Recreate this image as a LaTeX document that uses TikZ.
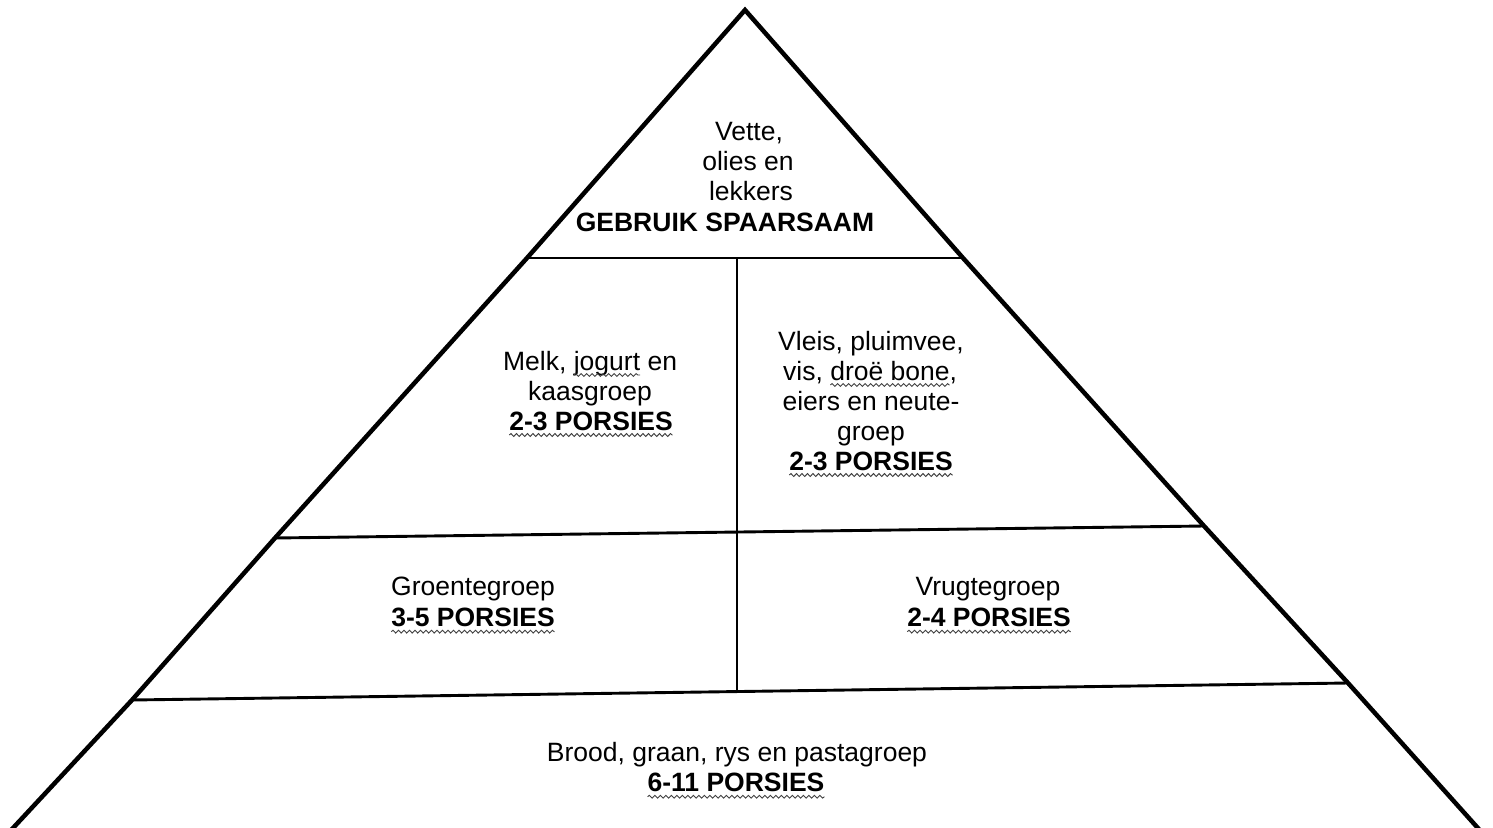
\documentclass[tikz,border=0pt]{standalone}
\usepackage{fontspec}
\setmainfont{Liberation Sans}
\usetikzlibrary{decorations.pathmorphing}
\tikzset{
  outer/.style={line width=4.5pt, line join=miter},
  inner/.style={line width=2.9pt},
  divider/.style={line width=2.6pt},
  txt/.style={font=\fontsize{26.5}{30}\selectfont, inner sep=0pt, outer sep=0pt, anchor=base},
  btxt/.style={txt, font=\fontsize{26.5}{30}\selectfont\bfseries},
  wave/.style={draw=black!75, line width=0.9pt, decorate,
    decoration={snake, segment length=5.5pt, amplitude=1.4pt}}
}
\begin{document}
\begin{tikzpicture}[x=1pt, y=-1pt]
\useasboundingbox (0,0) rectangle (1493,827);
\clip (0,0) rectangle (1493,827);
% corner coordinates
\coordinate (A) at (745,10);
\coordinate (T1) at (527,258);
\coordinate (T2) at (963,258);
\coordinate (M1) at (275,538);
\coordinate (M2) at (1204,526);
\coordinate (L1) at (132,700);
\coordinate (L2) at (1348,683);
\coordinate (B1) at (5.6,836);
\coordinate (B2) at (1485,836);
\coordinate (V1) at (737,258);
\coordinate (V2) at (737,532);
\coordinate (V3) at (737,532);
\coordinate (V4) at (737,691);
% outer sides
\draw[outer] (B1) -- (L1) -- (M1) -- (T1) -- (A) -- (T2) -- (M2) -- (L2) -- (B2);
% horizontal levels
\draw[inner] (T1) -- (T2);
\draw[inner] (M1) -- (M2);
\draw[inner] (L1) -- (L2);
% vertical dividers
\draw[divider] (V1) -- (V2);
\draw[divider] (V3) -- (V4);
% top
\node[txt] (t1) at (749,140.7) {Vette,};
\node[txt] (t2) at (748,170.7) {olies en};
\node[txt] (t3) at (751,200.7) {lekkers};
\node[btxt] (t4) at (725,231.7) {GEBRUIK SPAARSAAM};
% dairy
\node[txt] (m1b) at (607,370) {jogurt};
\node[txt, anchor=base east] (m1a) at ([xshift=-7.4pt]m1b.base west) {Melk,};
\node[txt, anchor=base west] (m1c) at ([xshift=7.4pt]m1b.base east) {en};
\node[txt] (m2) at (590,400) {kaasgroep};
\node[btxt] (m3) at (591,430) {2-3 PORSIES};
% meat
\node[txt] (v1) at (871,350) {Vleis, pluimvee,};
\node[txt] (v2b) at (890,380) {droë bone};
\node[txt, anchor=base east] (v2a) at ([xshift=-7.4pt]v2b.base west) {vis,};
\node[txt, anchor=base west] (v2c) at (v2b.base east) {,};
\node[txt] (v3) at (871,410) {eiers en neute-};
\node[txt] (v4) at (871,440) {groep};
\node[btxt] (v5) at (871,470) {2-3 PORSIES};
% vegetables
\node[txt] (g1) at (473,595) {Groentegroep};
\node[btxt] (g2) at (473,626.7) {3-5 PORSIES};
% fruit
\node[txt] (f1) at (988,595) {Vrugtegroep};
\node[btxt] (f2) at (989,626.7) {2-4 PORSIES};
% bread
\node[txt] (b1) at (737,761) {Brood, graan, rys en pastagroep};
\node[btxt] (b2) at (736,791.7) {6-11 PORSIES};
% spelling waves
\foreach \n in {m1b, m3, v2b, v5, g2, f2, b2}
  \draw[wave] ([yshift=-5pt]\n.base west) -- ([yshift=-5pt]\n.base east);
\end{tikzpicture}
\end{document}
